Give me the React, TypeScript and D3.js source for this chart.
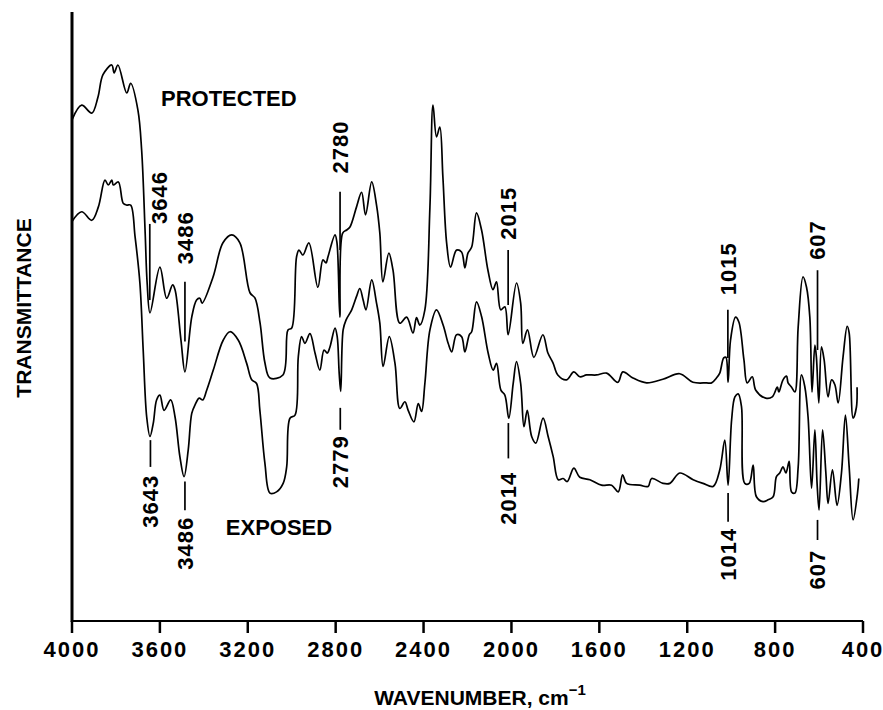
import React from "react";
import * as d3 from "d3";

// ---- Data (wavenumber cm^-1, transmittance in arbitrary units 0-100) ----
const protectedSpectrum: [number, number][] = [
  [4000, 82.3], [3956, 84.7], [3910, 83.4], [3882, 86.0], [3859, 89.7], [3819, 91.3], [3808, 90.0],
  [3791, 91.3], [3751, 86.7], [3733, 88.3], [3700, 83.9], [3683, 77.3], [3667, 63.7], [3658, 55.5],
  [3645, 50.6], [3600, 58.1], [3569, 53.0], [3542, 55.2], [3531, 54.4], [3504, 46.1], [3486, 40.9],
  [3455, 49.9], [3433, 52.7], [3418, 53.0], [3408, 52.2], [3358, 56.5], [3313, 62.1], [3273, 63.4],
  [3236, 62.1], [3190, 53.9], [3167, 53.0], [3144, 48.9], [3122, 42.4], [3099, 39.9], [3040, 40.4],
  [3017, 47.8], [3000, 48.1], [2978, 59.8], [2967, 60.9], [2949, 60.1], [2922, 62.1], [2881, 54.8],
  [2858, 59.3], [2844, 58.8], [2835, 59.8], [2803, 63.4], [2794, 62.1], [2781, 49.9], [2768, 63.7],
  [2750, 64.2], [2735, 64.7], [2705, 68.0], [2682, 70.4], [2664, 66.7], [2636, 72.1], [2614, 68.3],
  [2599, 63.7], [2585, 55.7], [2558, 60.4], [2539, 57.6], [2508, 48.9], [2477, 49.9], [2448, 47.3],
  [2432, 49.8], [2417, 48.6], [2394, 51.1], [2371, 68.0], [2357, 84.7], [2341, 79.5], [2326, 81.1],
  [2312, 72.9], [2295, 62.1], [2277, 58.1], [2250, 60.9], [2227, 60.6], [2212, 58.0], [2198, 60.4],
  [2181, 61.4], [2159, 67.0], [2136, 64.2], [2107, 57.6], [2084, 54.4], [2068, 55.7], [2049, 51.1],
  [2030, 51.6], [2015, 47.0], [1977, 55.5], [1958, 52.2], [1948, 45.6], [1927, 47.8], [1898, 43.3],
  [1857, 47.0], [1834, 44.0], [1811, 42.4], [1789, 40.4], [1749, 39.6], [1716, 40.9], [1689, 40.1],
  [1658, 40.4], [1613, 40.4], [1567, 40.7], [1516, 39.2], [1493, 40.9], [1447, 39.9], [1385, 39.1],
  [1311, 39.7], [1234, 40.6], [1174, 39.2], [1112, 39.1], [1089, 39.1], [1067, 39.9], [1052, 40.7],
  [1034, 43.2], [1024, 43.3], [1014, 39.2], [1003, 46.1], [980, 49.9], [965, 49.1], [942, 42.9],
  [927, 39.1], [904, 40.1], [888, 37.9], [843, 36.6], [813, 36.8], [790, 38.4], [783, 37.6],
  [764, 39.6], [748, 40.2], [741, 39.1], [725, 38.4], [710, 37.6], [695, 48.3], [673, 56.5],
  [657, 54.8], [642, 49.9], [632, 37.6], [619, 45.3], [612, 43.3], [601, 35.8], [589, 45.0],
  [577, 42.9], [559, 36.8], [543, 39.6], [528, 38.8], [513, 35.8], [491, 43.3], [472, 48.4],
  [463, 47.3], [445, 33.3], [430, 35.1], [427, 38.4],
];

const exposedSpectrum: [number, number][] = [
  [4000, 65.6], [3956, 67.2], [3910, 65.8], [3880, 68.0], [3850, 72.4], [3835, 71.6], [3819, 72.4],
  [3812, 71.6], [3789, 72.1], [3767, 68.6], [3751, 68.3], [3733, 68.3], [3713, 63.1], [3691, 55.5],
  [3676, 44.5], [3660, 33.5], [3645, 30.3], [3630, 32.5], [3615, 36.3], [3600, 37.1], [3581, 34.6],
  [3551, 36.3], [3531, 33.5], [3509, 27.0], [3490, 23.7], [3471, 28.1], [3455, 34.1], [3440, 35.5],
  [3421, 36.6], [3405, 36.3], [3387, 37.9], [3357, 41.2], [3312, 46.1], [3281, 47.5], [3243, 46.1],
  [3205, 42.3], [3182, 39.6], [3160, 39.0], [3145, 34.6], [3122, 25.9], [3099, 21.0], [3069, 21.2],
  [3039, 22.6], [3023, 25.3], [3008, 33.3], [2985, 33.8], [2970, 43.4], [2955, 46.7], [2940, 45.6],
  [2917, 47.2], [2894, 44.0], [2872, 41.2], [2853, 44.5], [2838, 44.0], [2826, 45.0], [2803, 48.1],
  [2793, 46.7], [2784, 40.7], [2777, 37.7], [2766, 47.8], [2753, 49.4], [2727, 51.1], [2705, 53.3],
  [2690, 54.6], [2675, 52.7], [2662, 51.1], [2636, 56.0], [2614, 52.2], [2599, 48.9], [2584, 41.8],
  [2556, 46.7], [2530, 42.3], [2508, 34.9], [2485, 36.0], [2470, 34.6], [2444, 32.7], [2424, 35.7],
  [2409, 34.4], [2394, 39.0], [2371, 47.8], [2341, 51.1], [2311, 48.6], [2288, 45.6], [2272, 44.2],
  [2250, 47.0], [2227, 46.7], [2212, 44.2], [2192, 47.0], [2181, 47.5], [2159, 52.4], [2136, 50.0],
  [2106, 44.0], [2083, 41.2], [2068, 42.3], [2048, 37.9], [2030, 37.1], [2012, 33.3], [1992, 39.0],
  [1977, 42.6], [1958, 39.0], [1943, 31.9], [1928, 34.6], [1908, 30.3], [1889, 29.2], [1856, 33.3],
  [1833, 30.3], [1810, 27.0], [1787, 23.2], [1765, 23.4], [1746, 22.9], [1716, 25.1], [1689, 23.6],
  [1643, 23.2], [1590, 22.3], [1544, 22.3], [1514, 21.2], [1494, 24.0], [1476, 22.6], [1416, 22.3],
  [1378, 22.1], [1362, 23.4], [1310, 22.6], [1279, 22.6], [1234, 24.3], [1173, 23.2], [1128, 22.6],
  [1082, 22.1], [1052, 24.8], [1029, 29.7], [1014, 22.3], [998, 33.0], [983, 36.8], [968, 37.3],
  [953, 35.2], [938, 22.6], [918, 22.6], [900, 25.6], [885, 20.4], [855, 19.6], [832, 19.9],
  [809, 20.4], [794, 23.7], [779, 24.3], [764, 25.3], [751, 24.3], [736, 26.2], [725, 21.2],
  [710, 21.0], [695, 25.3], [680, 40.4], [665, 38.5], [650, 33.5], [634, 21.8], [619, 31.4],
  [609, 22.6], [600, 18.2], [584, 31.4], [569, 24.3], [559, 19.3], [539, 24.8], [518, 19.0],
  [498, 24.3], [480, 33.8], [463, 25.3], [445, 16.6], [425, 21.0], [419, 23.4],
];

// Peak annotations: wavenumber, text, marker line extent and label end (transmittance units)
const protectedPeaks = [
  { wn: 3646, text: "3646", lineTop: 65.2, lineBottom: 52.7, labelAt: 65.2 },
  { wn: 3486, text: "3486", lineTop: 55.7, lineBottom: 45.9, labelAt: 58.6 },
  { wn: 2780, text: "2780", lineTop: 70.5, lineBottom: 60.9, labelAt: 73.5 },
  { wn: 2015, text: "2015", lineTop: 60.9, lineBottom: 51.9, labelAt: 62.6 },
  { wn: 1015, text: "1015", lineTop: 51.1, lineBottom: 43.2, labelAt: 53.5 },
  { wn: 607, text: "607", lineTop: 57.6, lineBottom: 44.5, labelAt: 59.3 },
];

const exposedPeaks = [
  { wn: 3643, text: "3643", lineTop: 29.7, lineBottom: 25.3, labelAt: 24.0 },
  { wn: 3486, text: "3486", lineTop: 22.9, lineBottom: 18.2, labelAt: 17.1 },
  { wn: 2779, text: "2779", lineTop: 35.0, lineBottom: 31.4, labelAt: 30.5 },
  { wn: 2014, text: "2014", lineTop: 32.5, lineBottom: 26.7, labelAt: 24.5 },
  { wn: 1014, text: "1014", lineTop: 21.0, lineBottom: 16.3, labelAt: 15.3 },
  { wn: 607, text: "607", lineTop: 16.6, lineBottom: 13.3, labelAt: 11.7 },
];

const seriesNames = ["PROTECTED", "EXPOSED"];
const seriesLabelPos: [number, number][] = [[3595, 84.5], [3300, 14.1]];

const xTicks = [4000, 3600, 3200, 2800, 2400, 2000, 1600, 1200, 800, 400];

const W = 883;
const H = 710;
const FONT = "'Liberation Sans', Arial, Helvetica, sans-serif";

export default function App() {
  const x = d3.scaleLinear().domain([4000, 400]).range([72, 863]);
  const y = d3.scaleLinear().domain([0, 100]).range([621, 12]);
  const line = d3
    .line<[number, number]>()
    .x((d) => x(d[0]))
    .y((d) => y(d[1]))
    .curve(d3.curveCatmullRom.alpha(0.5));

  const nudge: Record<string, number> = { "3646": 9 };

  const renderPeaks = (peaks: typeof protectedPeaks, upper: boolean) =>
    peaks.map((p) => {
      const px = x(p.wn);
      const lx = px + (nudge[p.text] && upper ? nudge[p.text] : 0);
      return (
        <g key={(upper ? "u" : "l") + p.text}>
          <line x1={px} x2={px} y1={y(p.lineTop)} y2={y(p.lineBottom)} stroke="#000" strokeWidth={1.7} />
          <text
            transform={`translate(${lx},${y(p.labelAt)}) rotate(-90)`}
            textAnchor={upper ? "start" : "end"}
            dy="0.36em"
            fontSize={22}
            fontWeight="bold"
            letterSpacing={1}
            fontFamily={FONT}
            fill="#000"
          >
            {p.text}
          </text>
        </g>
      );
    });

  return (
    <svg
      width={W}
      height={H}
      style={{ position: "absolute", left: 0, top: 0, background: "#fff", display: "block" }}
    >
      <rect width={W} height={H} fill="#fff" />
      {/* axes */}
      <line x1={72} x2={72} y1={y(100)} y2={y(0) + 1} stroke="#000" strokeWidth={3} />
      <line x1={x(4000)} x2={x(400)} y1={y(0)} y2={y(0)} stroke="#000" strokeWidth={2.2} />
      {xTicks.map((t) => (
        <g key={t}>
          <line x1={x(t)} x2={x(t)} y1={y(0)} y2={y(0) + 12} stroke="#000" strokeWidth={2.5} />
          <text
            x={x(t)}
            y={656.5}
            textAnchor="middle"
            fontSize={22}
            fontWeight="bold"
            letterSpacing={2}
            fontFamily={FONT}
            fill="#000"
          >
            {t}
          </text>
        </g>
      ))}
      {/* axis titles */}
      <text
        x={480}
        y={705}
        textAnchor="middle"
        fontSize={21}
        fontWeight="bold"
        fontFamily={FONT}
        fill="#000"
      >
        WAVENUMBER, cm
        <tspan dy={-10} fontSize={15}>
          {"\u22121"}
        </tspan>
      </text>
      <text
        transform={`translate(30.5,308) rotate(-90)`}
        textAnchor="middle"
        fontSize={21}
        fontWeight="bold"
        fontFamily={FONT}
        fill="#000"
      >
        TRANSMITTANCE
      </text>
      {/* spectra */}
      <path d={line(protectedSpectrum) || ""} fill="none" stroke="#000" strokeWidth={1.7} strokeLinejoin="round" />
      <path d={line(exposedSpectrum) || ""} fill="none" stroke="#000" strokeWidth={1.7} strokeLinejoin="round" />
      {/* series labels */}
      {seriesNames.map((n, i) => (
        <text
          key={n}
          x={x(seriesLabelPos[i][0])}
          y={y(seriesLabelPos[i][1])}
          fontSize={22}
          fontWeight="bold"
          fontFamily={FONT}
          fill="#000"
        >
          {n}
        </text>
      ))}
      {renderPeaks(protectedPeaks, true)}
      {renderPeaks(exposedPeaks, false)}
    </svg>
  );
}
